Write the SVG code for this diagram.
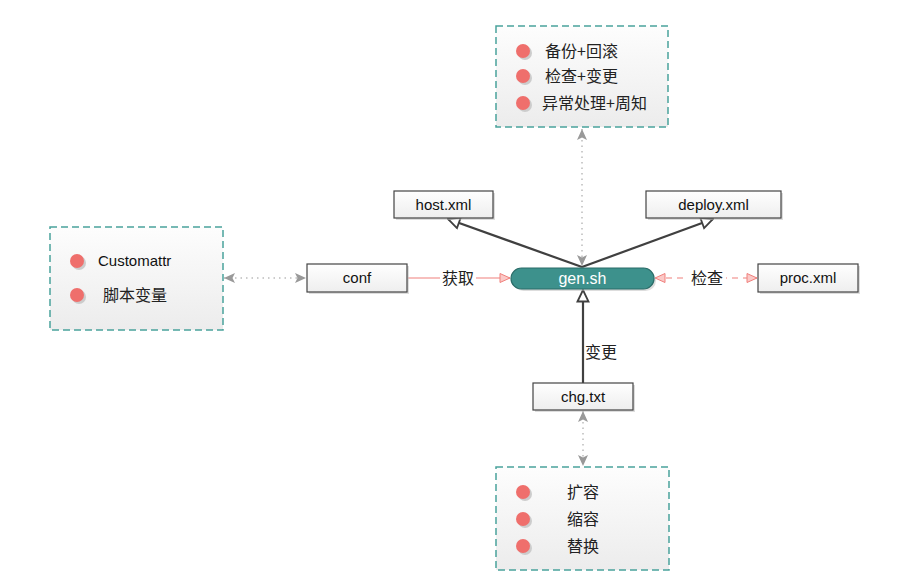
<svg xmlns="http://www.w3.org/2000/svg" width="910" height="588" viewBox="0 0 910 588">
<style>
text{font-family:"Liberation Sans","Noto Sans CJK SC",sans-serif;font-size:15px;fill:#111}
.cn{font-family:"Noto Sans CJK SC","Liberation Sans",sans-serif;font-size:16px;fill:#222}
.grp{fill:url(#gbox);stroke:#4aa39c;stroke-width:1.5;stroke-dasharray:7,4}
.nd{fill:url(#gnode);stroke:#444;stroke-width:1.2}
.sh{fill:#bbb;opacity:0.5}
.dot{fill:#ef6f6c}
.dsh{fill:#ccc}
.dk{stroke:#404040;stroke-width:2.2;fill:none}
.gr{stroke:#999;stroke-width:1;stroke-dasharray:1.5,4;fill:none}
.rd{stroke:#f0807c;stroke-width:1.2;fill:none}
</style>
<defs>
<linearGradient id="gbox" x1="0" y1="0" x2="0" y2="1"><stop offset="0" stop-color="#fdfdfd"/><stop offset="1" stop-color="#ececec"/></linearGradient>
<linearGradient id="gnode" x1="0" y1="0" x2="0" y2="1"><stop offset="0" stop-color="#ffffff"/><stop offset="1" stop-color="#eeeeee"/></linearGradient>
<marker id="hol" viewBox="0 0 14 14" refX="13" refY="7" markerWidth="14" markerHeight="14" markerUnits="userSpaceOnUse" orient="auto"><path d="M1.5,1.5 L13,7 L1.5,12.5 Z" fill="#fff" stroke="#404040" stroke-width="1.8"/></marker>
<marker id="gra" viewBox="0 0 12 12" refX="11" refY="6" markerWidth="12" markerHeight="12" markerUnits="userSpaceOnUse" orient="auto-start-reverse"><path d="M0,1 L11,6 L0,11 L2.5,6 Z" fill="#999"/></marker>
<marker id="red" viewBox="0 0 12 12" refX="11" refY="6" markerWidth="12" markerHeight="12" markerUnits="userSpaceOnUse" orient="auto-start-reverse"><path d="M1,1.5 L11,6 L1,10.5 Z" fill="#fbc9c7" stroke="#f0807c" stroke-width="1"/></marker>
</defs>

<g id="connectors">
<path class="dk" d="M582,267 L448,219" marker-end="url(#hol)"/>
<path class="dk" d="M582,267 L713,219" marker-end="url(#hol)"/>
<path class="dk" d="M583,383 L583,290" marker-end="url(#hol)"/>
<path class="gr" d="M582,129 L582,266" marker-start="url(#gra)" marker-end="url(#gra)"/>
<path class="gr" d="M224,278 L306,278" marker-start="url(#gra)" marker-end="url(#gra)"/>
<path class="gr" d="M583,411 L583,466" marker-start="url(#gra)" marker-end="url(#gra)"/>
<path class="rd" d="M408,278 L510,278" marker-end="url(#red)"/>
<path class="rd" d="M655,278 L757,278" stroke-dasharray="6,5" marker-start="url(#red)" marker-end="url(#red)"/>
<rect x="440" y="267" width="36" height="22" fill="#fff"/>
<text class="cn" x="458" y="284" text-anchor="middle">获取</text>
<rect x="688" y="267" width="38" height="22" fill="#fff"/>
<text class="cn" x="707" y="284" text-anchor="middle">检查</text>
<text class="cn" x="585" y="358">变更</text>
</g>

<g id="group-top">
<rect class="grp" x="496" y="26" width="172" height="101"/>
<circle class="dsh" cx="525" cy="53" r="7"/><circle class="dot" cx="523" cy="51" r="7"/>
<circle class="dsh" cx="525" cy="78" r="7"/><circle class="dot" cx="523" cy="76" r="7"/>
<circle class="dsh" cx="525" cy="105" r="7"/><circle class="dot" cx="523" cy="103" r="7"/>
<text class="cn" x="545" y="57">备份+回滚</text>
<text class="cn" x="545" y="82">检查+变更</text>
<text class="cn" x="542" y="109">异常处理+周知</text>
</g>

<g id="group-left">
<rect class="grp" x="50" y="227" width="173" height="103"/>
<circle class="dsh" cx="79" cy="263" r="7"/><circle class="dot" cx="77" cy="261" r="7"/>
<circle class="dsh" cx="79" cy="297" r="7"/><circle class="dot" cx="77" cy="295" r="7"/>
<text x="98" y="266">Customattr</text>
<text class="cn" x="103" y="301">脚本变量</text>
</g>

<g id="group-bottom">
<rect class="grp" x="496" y="467" width="173" height="103"/>
<circle class="dsh" cx="525" cy="494" r="7"/><circle class="dot" cx="523" cy="492" r="7"/>
<circle class="dsh" cx="525" cy="521" r="7"/><circle class="dot" cx="523" cy="519" r="7"/>
<circle class="dsh" cx="525" cy="548" r="7"/><circle class="dot" cx="523" cy="546" r="7"/>
<text class="cn" x="567" y="498">扩容</text>
<text class="cn" x="567" y="525">缩容</text>
<text class="cn" x="567" y="552">替换</text>
</g>

<g id="node-host">
<rect class="sh" x="396" y="193" width="99" height="27"/>
<rect class="nd" x="394" y="191" width="99" height="27"/>
<text x="443.5" y="210" text-anchor="middle">host.xml</text>
</g>
<g id="node-deploy">
<rect class="sh" x="648" y="193" width="135" height="27"/>
<rect class="nd" x="646" y="191" width="135" height="27"/>
<text x="713.5" y="210" text-anchor="middle">deploy.xml</text>
</g>
<g id="node-conf">
<rect class="sh" x="309" y="266" width="100" height="28"/>
<rect class="nd" x="307" y="264" width="100" height="28"/>
<text x="357" y="283" text-anchor="middle">conf</text>
</g>
<g id="node-gen">
<rect x="513" y="270" width="143" height="21" rx="10.5" fill="#bbb" opacity="0.5"/>
<rect x="511" y="268" width="143" height="21" rx="10.5" fill="#3d918c" stroke="#2b6d69" stroke-width="1.2"/>
<text x="582.5" y="284" text-anchor="middle" style="fill:#fff;font-size:16px">gen.sh</text>
</g>
<g id="node-proc">
<rect class="sh" x="760" y="266" width="100" height="28"/>
<rect class="nd" x="758" y="264" width="100" height="28"/>
<text x="808" y="283" text-anchor="middle">proc.xml</text>
</g>
<g id="node-chg">
<rect class="sh" x="535" y="385" width="100" height="27"/>
<rect class="nd" x="533" y="383" width="100" height="27"/>
<text x="583" y="402" text-anchor="middle">chg.txt</text>
</g>
</svg>
